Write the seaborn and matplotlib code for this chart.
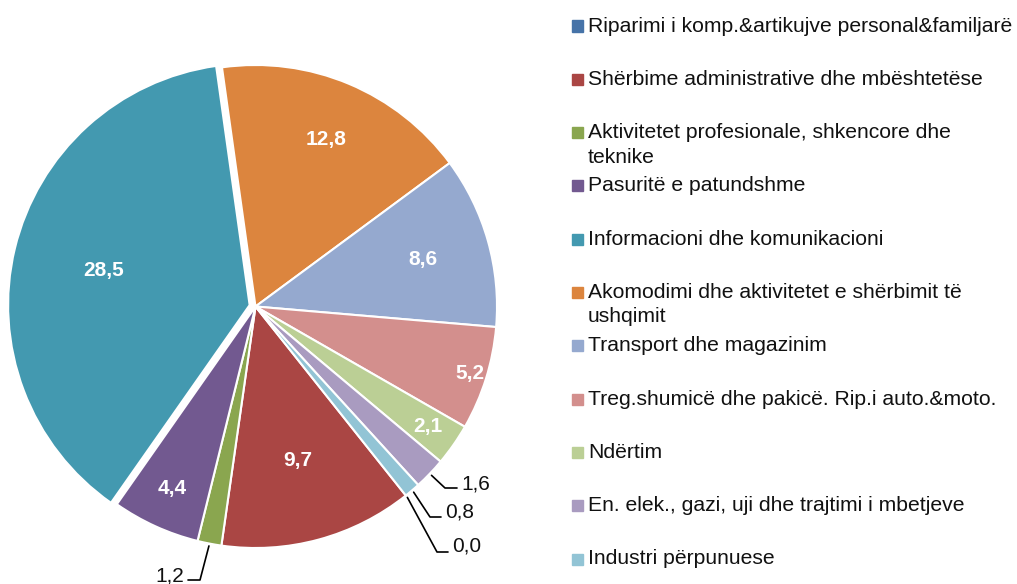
import numpy as np
import seaborn as sns
import matplotlib.pyplot as plt
from matplotlib.patches import Rectangle

sectors = ["Riparimi i komp.&artikujve personal&familjarë",
           "Shërbime administrative dhe mbështetëse",
           "Aktivitetet profesionale, shkencore dhe\nteknike",
           "Pasuritë e patundshme",
           "Informacioni dhe komunikacioni",
           "Akomodimi dhe aktivitetet e shërbimit të\nushqimit",
           "Transport dhe magazinim",
           "Treg.shumicë dhe pakicë. Rip.i auto.&moto.",
           "Ndërtim",
           "En. elek., gazi, uji dhe trajtimi i mbetjeve",
           "Industri përpunuese"]
shares = [0.0, 9.7, 1.2, 4.4, 28.5, 12.8, 8.6, 5.2, 2.1, 1.6, 0.8]
colors = ["#4673A8", "#AA4644", "#8AA64F", "#725990", "#4399B0", "#DC853E",
          "#95A9CF", "#D38F8D", "#BBCF95", "#A99BC0", "#92C4D5"]

sns.set_style("white")
plt.rcParams['font.family'] = ['Liberation Sans', 'DejaVu Sans']

W, H = 1017, 584
cx, cy, R = 255.5, 306.5, 241.5   # pie centre / radius in pixels

fig = plt.figure(figsize=(W / 100, H / 100), dpi=100)
ax = fig.add_axes([0, 0, 1, 1])

explode = [0.025 if v == max(shares) else 0 for v in shares]
wedges, _ = ax.pie(shares, colors=colors, startangle=-51.5, counterclock=False,
                   explode=explode, normalize=True,
                   wedgeprops=dict(edgecolor="white", linewidth=1.5))
ax.set_aspect("auto")
ax.set_xlim(-cx / R, (W - cx) / R)
ax.set_ylim(-(H - cy) / R, cy / R)
ax.axis("off")


def px(x, y):
    return (x - cx) / R, (cy - y) / R


def fmt(v):
    return f"{v:.1f}".replace(".", ",")


# labels inside the slices (radius as fraction of pie radius)
inside = {1: 0.66, 3: 0.83, 4: 0.62, 5: 0.75, 6: 0.72, 7: 0.93, 8: 0.87}
for i, r in inside.items():
    w = wedges[i]
    mid = np.deg2rad((w.theta1 + w.theta2) / 2)
    ox, oy = w.center
    ax.text(ox + r * np.cos(mid), oy + r * np.sin(mid), fmt(shares[i]),
            color="white", fontsize=15, fontweight="bold", ha="center", va="center")

# labels outside with leader lines: (elbow px, end px, text px, ha)
outside = {9: ((445, 488), (457, 488), (461, 489), "left"),
           10: ((430, 517), (441, 517), (445, 518), "left"),
           0: ((437, 552), (448, 552), (452, 552), "left"),
           2: ((200, 580), (188, 580), (184, 581), "right")}
for i, (elbow, end, tpos, ha) in outside.items():
    w = wedges[i]
    mid = np.deg2rad((w.theta1 + w.theta2) / 2)
    sx, sy = 1.01 * np.cos(mid), 1.01 * np.sin(mid)
    ex, ey = px(*elbow)
    fx, fy = px(*end)
    ax.plot([sx, ex, fx], [sy, ey, fy], color="black", lw=1.2, clip_on=False)
    tx, ty = px(*tpos)
    ax.text(tx, ty, fmt(shares[i]), color="#111111", fontsize=15,
            ha=ha, va="baseline")

# legend drawn on the right
y0, step = 26, 53.3
for k, (lab, col) in enumerate(zip(sectors, colors)):
    y = y0 + k * step
    fig.add_artist(Rectangle((572 / W, 1 - (y + 5.5) / H), 11 / W, 11 / H,
                             transform=fig.transFigure, color=col))
    for j, line in enumerate(lab.split("\n")):
        fig.text(588 / W, 1 - (y + j * 24.5) / H, line, fontsize=15.2,
                 color="#111111", ha="left", va="center")

fig.savefig("out.png", dpi=100)
